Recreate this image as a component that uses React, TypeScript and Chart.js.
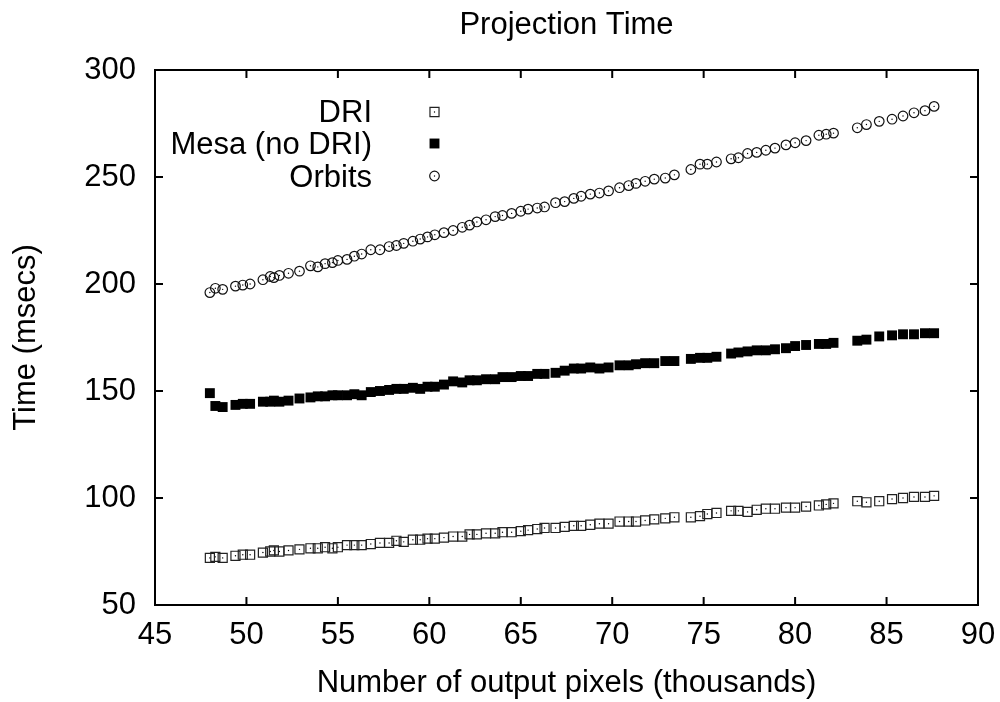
import { useEffect, useRef } from "react";
import { Chart, registerables } from "chart.js";

Chart.register(...registerables);

const FONT = "'Liberation Sans', Arial, Helvetica, sans-serif";
const chartTitle = "Projection Time";
const xTitle = "Number of output pixels (thousands)";
const yTitle = "Time (msecs)";
const seriesNames = ["DRI", "Mesa (no DRI)", "Orbits"];
const xTicks = [45, 50, 55, 60, 65, 70, 75, 80, 85, 90];
const yTicks = [50, 100, 150, 200, 250, 300];

const xValues = [
  48.0, 48.3, 48.7, 49.4, 49.8, 50.2, 50.9, 51.3, 51.5, 51.8,
  52.3, 52.9, 53.5, 53.9, 54.3, 54.7, 55.0, 55.5, 55.9, 56.3,
  56.8, 57.3, 57.8, 58.2, 58.6, 59.1, 59.5, 59.9, 60.3, 60.8,
  61.3, 61.8, 62.2, 62.6, 63.1, 63.6, 64.0, 64.5, 65.0, 65.4,
  65.9, 66.3, 66.9, 67.4, 67.9, 68.3, 68.8, 69.3, 69.8, 70.4,
  70.9, 71.3, 71.8, 72.3, 72.9, 73.4, 74.3, 74.8, 75.2, 75.7,
  76.5, 76.9, 77.4, 77.9, 78.4, 78.9, 79.5, 80.0, 80.6, 81.3,
  81.7, 82.1, 83.4, 83.9, 84.6, 85.3, 85.9, 86.5, 87.1, 87.6,
];

const driValues = [
  72, 72.5, 72, 73, 73.5, 73.5, 74.5, 75, 75.5, 75,
  75.5, 76, 76.5, 76.5, 77, 76.5, 77, 78, 78, 78,
  78.5, 79, 79, 80, 79.5, 80.5, 80.5, 81, 81, 81.5,
  82, 82, 83, 83, 83.5, 83.5, 84, 84, 84.5, 85,
  85.5, 86, 86, 86.5, 87, 87, 87.5, 88, 88, 89,
  89, 89, 89.5, 90, 90.5, 91, 91, 91.5, 92.5, 93,
  94, 94, 93.5, 94.5, 95, 95, 95.5, 95.5, 96, 96.5,
  97, 97.5, 98.5, 98, 98.5, 99.5, 100, 100.5, 100.5, 101,
];

const mesaValues = [
  149, 143, 142.5, 143.5, 144, 144, 145, 145, 145.5, 145,
  145.5, 146.5, 147, 147.5, 147.5, 148, 148, 148, 148.5, 148,
  149.5, 150, 150.5, 151, 151, 151.5, 151, 152, 152, 153,
  154.5, 154, 155, 155, 155.5, 155.5, 156.5, 156.5, 157, 157,
  158, 158, 158.5, 159.5, 160.5, 160.5, 161, 160.5, 161, 162,
  162, 162.5, 163, 163, 164, 164, 165, 165.5, 165.5, 166,
  167.5, 168, 168.5, 169, 169, 169.5, 170, 171, 171.5, 172,
  172, 172.5, 173.5, 174, 175.5, 176, 176.5, 176.5, 177, 177,
];

const orbitsValues = [
  196, 198, 197.5, 199, 199.5, 200, 202, 203.5, 203, 204,
  205, 206, 208.5, 208, 209.5, 210, 211, 211.5, 213, 214,
  216, 216, 217.5, 218, 219, 220, 221, 222, 223, 224,
  225, 226.5, 227.5, 229, 230, 231.5, 232, 233, 234, 235,
  235.5, 236, 238, 238.5, 240, 241, 242, 242.5, 243.5, 245,
  246, 247, 248, 249, 249.5, 251, 253.5, 256, 256, 257,
  258.5, 259, 261, 261.5, 262.5, 263.5, 265, 266, 267, 269.5,
  270, 270.5, 273, 274.5, 276, 277, 278.5, 280, 281, 283,
];

// marker styles (open square w/ dot, filled square, open circle w/ dot)
const markerStyles = [
  { pointStyle: "rect", pointRadius: 6.4, borderWidth: 1.2, borderColor: "#222", backgroundColor: "rgba(0,0,0,0)", dot: true },
  { pointStyle: "rect", pointRadius: 7, borderWidth: 0, borderColor: "#000", backgroundColor: "#000", dot: false },
  { pointStyle: "circle", pointRadius: 4.8, borderWidth: 1.2, borderColor: "#111", backgroundColor: "rgba(0,0,0,0)", dot: true },
];

export default function App() {
  const ref = useRef<HTMLCanvasElement | null>(null);

  useEffect(() => {
    if (!ref.current) return;
    const seriesValues = [driValues, mesaValues, orbitsValues];

    const framePlugin = {
      id: "frameAndLegend",
      afterDraw(chart: any) {
        const { ctx, chartArea } = chart;
        const { left, right, top, bottom } = chartArea;
        const xs = chart.scales.x;
        const ys = chart.scales.y;
        ctx.save();
        ctx.strokeStyle = "#000";
        ctx.lineWidth = 2;
        ctx.strokeRect(left, top, right - left, bottom - top);
        ctx.beginPath();
        for (const v of xTicks) {
          const p = xs.getPixelForValue(v);
          ctx.moveTo(p, bottom);
          ctx.lineTo(p, bottom - 8);
          ctx.moveTo(p, top);
          ctx.lineTo(p, top + 8);
        }
        for (const v of yTicks) {
          const p = ys.getPixelForValue(v);
          ctx.moveTo(left, p);
          ctx.lineTo(left + 8, p);
          ctx.moveTo(right, p);
          ctx.lineTo(right - 8, p);
        }
        ctx.stroke();

        ctx.fillStyle = "#000";
        ctx.font = `31px ${FONT}`;
        ctx.textAlign = "center";
        ctx.textBaseline = "alphabetic";
        ctx.fillText(chartTitle, (left + right) / 2, 34);

        const baselines = [122, 154, 187];
        const markerY = [112, 143.5, 176];
        const mx = 434.5;
        ctx.textAlign = "right";
        seriesNames.forEach((name, i) => {
          ctx.fillStyle = "#000";
          ctx.fillText(name, 372, baselines[i]);
          const st = markerStyles[i];
          const my = markerY[i];
          ctx.beginPath();
          if (st.pointStyle === "rect") {
            const h = st.pointRadius * Math.SQRT1_2;
            ctx.rect(mx - h, my - h, 2 * h, 2 * h);
          } else {
            ctx.arc(mx, my, st.pointRadius, 0, Math.PI * 2);
          }
          if (st.borderWidth > 0) {
            ctx.lineWidth = st.borderWidth;
            ctx.strokeStyle = st.borderColor;
            ctx.stroke();
          } else {
            ctx.fillStyle = st.backgroundColor;
            ctx.fill();
          }
          if (st.dot) {
            ctx.fillStyle = "#000";
            ctx.beginPath();
            ctx.arc(mx, my, 0.7, 0, Math.PI * 2);
            ctx.fill();
          }
        });
        ctx.restore();
      },
    };

    const datasets: any[] = [];
    seriesNames.forEach((name, i) => {
      const st = markerStyles[i];
      const pts = xValues.map((x, j) => ({ x, y: seriesValues[i][j] }));
      datasets.push({
        label: name,
        data: pts,
        pointStyle: st.pointStyle,
        pointRadius: st.pointRadius,
        borderWidth: st.borderWidth,
        borderColor: st.borderColor,
        backgroundColor: st.backgroundColor,
        showLine: false,
      });
      if (st.dot) {
        datasets.push({
          label: name + " centre",
          data: pts,
          pointStyle: "circle",
          pointRadius: 0.7,
          borderWidth: 0,
          backgroundColor: "#000",
          showLine: false,
        });
      }
    });

    const chart = new Chart(ref.current, {
      type: "scatter",
      data: { datasets },
      options: {
        responsive: false,
        animation: false,
        events: [],
        layout: { padding: { top: 70, right: 22, left: 0, bottom: 0 } },
        plugins: {
          legend: { display: false },
          tooltip: { enabled: false },
          title: { display: false },
        },
        scales: {
          x: {
            type: "linear",
            min: 45,
            max: 90,
            afterBuildTicks: (s: any) => {
              s.ticks = xTicks.map((v) => ({ value: v }));
            },
            afterFit: (s: any) => {
              s.height = 97;
              s.paddingLeft = 0;
              s.paddingRight = 0;
            },
            grid: { display: false, drawTicks: false },
            border: { display: false },
            ticks: {
              font: { family: FONT, size: 31 },
              color: "#000",
              padding: 12,
              maxRotation: 0,
              autoSkip: false,
            },
            title: {
              display: true,
              text: xTitle,
              font: { family: FONT, size: 31 },
              color: "#000",
              padding: { top: 0, bottom: 0 },
            },
          },
          y: {
            type: "linear",
            min: 50,
            max: 300,
            afterBuildTicks: (s: any) => {
              s.ticks = yTicks.map((v) => ({ value: v }));
            },
            afterFit: (s: any) => {
              s.width = 155;
              s.paddingTop = 0;
              s.paddingBottom = 0;
            },
            grid: { display: false, drawTicks: false },
            border: { display: false },
            ticks: {
              font: { family: FONT, size: 31 },
              color: "#000",
              padding: 19,
              autoSkip: false,
            },
            title: {
              display: true,
              text: yTitle,
              font: { family: FONT, size: 31 },
              color: "#000",
              padding: { top: 8, bottom: 0 },
            },
          },
        },
      },
      plugins: [framePlugin],
    });

    return () => chart.destroy();
  }, []);

  return (
    <div style={{ position: "absolute", left: 0, top: 0, width: 1000, height: 702, background: "#fff" }}>
      <canvas ref={ref} width={1000} height={702} style={{ display: "block" }} />
    </div>
  );
}
